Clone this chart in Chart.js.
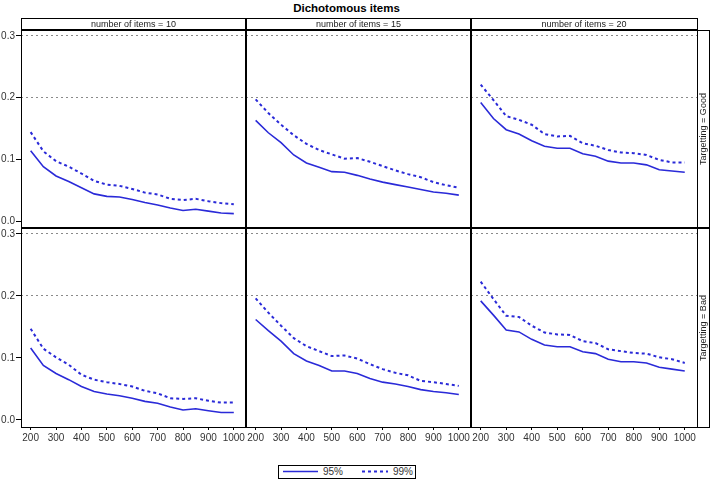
<!DOCTYPE html>
<html>
<head>
<meta charset="utf-8">
<script src="https://cdn.jsdelivr.net/npm/chart.js@4"></script>
<style>
  body { margin: 0; background: #fff; font-family: "Liberation Sans", Arial, sans-serif; }
  #wrap { position: relative; width: 711px; height: 480px; overflow: hidden; }
  .abs { position: absolute; }
  canvas { position: absolute; }
</style>
</head>
<body>
<div id="wrap"></div>
<script>
// panel labels
const itemCounts = [10, 15, 20];
const targetings = ["Good", "Bad"];
const sampleSizes = [200, 250, 300, 350, 400, 450, 500, 550, 600, 650, 700, 750, 800, 850, 900, 950, 1000];
const xTicks = [200, 300, 400, 500, 600, 700, 800, 900, 1000];
const yTicks = [0, 0.1, 0.2, 0.3];
const seriesNames = ["95%", "99%"];

// Targetting = Good
const good10_95 = [0.114, 0.088, 0.073, 0.064, 0.054, 0.044, 0.040, 0.039, 0.035, 0.030, 0.026, 0.021, 0.017, 0.019, 0.016, 0.013, 0.012];
const good10_99 = [0.144, 0.113, 0.097, 0.088, 0.077, 0.065, 0.059, 0.057, 0.052, 0.046, 0.043, 0.036, 0.034, 0.036, 0.032, 0.029, 0.027];
const good15_95 = [0.163, 0.143, 0.127, 0.107, 0.094, 0.087, 0.080, 0.079, 0.074, 0.068, 0.063, 0.059, 0.055, 0.051, 0.047, 0.045, 0.042];
const good15_99 = [0.197, 0.175, 0.156, 0.139, 0.125, 0.115, 0.108, 0.101, 0.102, 0.096, 0.089, 0.082, 0.076, 0.071, 0.063, 0.058, 0.054];
const good20_95 = [0.192, 0.166, 0.148, 0.141, 0.130, 0.121, 0.118, 0.118, 0.109, 0.105, 0.097, 0.094, 0.094, 0.091, 0.083, 0.081, 0.079];
const good20_99 = [0.221, 0.196, 0.170, 0.164, 0.156, 0.141, 0.137, 0.138, 0.126, 0.122, 0.115, 0.111, 0.110, 0.107, 0.099, 0.095, 0.095];

// Targetting = Bad
const bad10_95 = [0.116, 0.088, 0.075, 0.065, 0.054, 0.046, 0.042, 0.039, 0.035, 0.030, 0.027, 0.021, 0.016, 0.018, 0.015, 0.012, 0.012];
const bad10_99 = [0.147, 0.115, 0.101, 0.089, 0.073, 0.065, 0.061, 0.058, 0.054, 0.047, 0.043, 0.035, 0.034, 0.035, 0.031, 0.028, 0.028];
const bad15_95 = [0.162, 0.144, 0.127, 0.107, 0.095, 0.088, 0.079, 0.079, 0.075, 0.067, 0.061, 0.058, 0.054, 0.049, 0.046, 0.044, 0.041];
const bad15_99 = [0.196, 0.173, 0.152, 0.132, 0.119, 0.111, 0.103, 0.104, 0.099, 0.090, 0.082, 0.076, 0.072, 0.063, 0.061, 0.058, 0.055];
const bad20_95 = [0.192, 0.169, 0.145, 0.142, 0.130, 0.121, 0.118, 0.118, 0.110, 0.107, 0.098, 0.094, 0.094, 0.092, 0.085, 0.082, 0.079];
const bad20_99 = [0.223, 0.195, 0.168, 0.166, 0.152, 0.141, 0.138, 0.137, 0.127, 0.124, 0.114, 0.111, 0.108, 0.107, 0.101, 0.098, 0.092];

const panelData = [
  [[good10_95, good10_99], [good15_95, good15_99], [good20_95, good20_99]],
  [[bad10_95, bad10_99], [bad15_95, bad15_99], [bad20_95, bad20_99]]
];

const wrap = document.getElementById("wrap");
const lineColor = "#2a2ad8";
const colLeft = [21, 246, 471];
const colRight = [246, 471, 697];
const rowTop = [30, 228];
const rowBottom = [228, 427];
const yAxisW = 21;
const xAxisH = 20;

function addDiv(css, text) {
  const d = document.createElement("div");
  d.className = "abs";
  d.style.cssText = css;
  if (text) d.textContent = text;
  wrap.appendChild(d);
  return d;
}

function makePanel(r, c) {
  const [d95, d99] = panelData[r][c];
  const showY = c === 0;
  const showX = r === 1;
  const left = showY ? colLeft[c] - yAxisW : colLeft[c];
  const width = colRight[c] - left;
  const top = rowTop[r];
  const height = rowBottom[r] - top + (showX ? xAxisH : 0);

  const cv = document.createElement("canvas");
  cv.width = width;
  cv.height = height;
  cv.style.left = left + "px";
  cv.style.top = top + "px";
  wrap.appendChild(cv);

  new Chart(cv, {
    type: "line",
    data: {
      datasets: [
        {
          label: seriesNames[0],
          data: sampleSizes.map((x, i) => ({ x: x, y: d95[i] })),
          borderColor: lineColor,
          borderWidth: 1.6,
          pointRadius: 0,
          fill: false,
        },
        {
          label: seriesNames[1],
          data: sampleSizes.map((x, i) => ({ x: x, y: d99[i] })),
          borderColor: lineColor,
          borderWidth: 2,
          borderDash: [3, 3],
          pointRadius: 0,
          fill: false,
        }
      ]
    },
    options: {
      responsive: false,
      animation: false,
      layout: { padding: 0, autoPadding: false },
      plugins: { legend: { display: false }, tooltip: { enabled: false } },
      scales: {
        x: {
          type: "linear",
          min: 162,
          max: 1048,
          afterBuildTicks: s => { s.ticks = xTicks.map(v => ({ value: v })); },
          afterFit: s => {
            s.height = showX ? xAxisH : 0;
            s.paddingLeft = 0;
            s.paddingRight = 0;
          },
          border: { display: false },
          grid: {
            display: showX,
            drawOnChartArea: false,
            drawTicks: true,
            tickLength: 3,
            tickColor: "#000",
          },
          ticks: {
            display: showX,
            autoSkip: false,
            maxRotation: 0,
            padding: 2,
            color: "#333",
            font: { family: "Liberation Sans", size: 10 },
            callback: v => String(v),
          }
        },
        y: {
          min: -0.0113,
          max: 0.3095,
          afterBuildTicks: s => { s.ticks = yTicks.map(v => ({ value: v })); },
          afterFit: s => {
            s.width = showY ? yAxisW : 0;
            s.paddingTop = 0;
            s.paddingBottom = 0;
          },
          border: { display: false, dash: [2, 3] },
          grid: {
            color: ctx => (ctx.tick && ctx.tick.value >= 0.15 ? "#8a8a8a" : "rgba(0,0,0,0)"),
            lineWidth: 1,
            drawTicks: showY,
            tickLength: 5,
            tickColor: "#000",
          },
          ticks: {
            display: showY,
            padding: 1,
            color: "#333",
            font: { family: "Liberation Sans", size: 10 },
            callback: v => v.toFixed(1),
          }
        }
      }
    }
  });
}

for (let r = 0; r < 2; r++) {
  for (let c = 0; c < 3; c++) makePanel(r, c);
}

// title
addDiv("left:0;width:693px;top:2px;text-align:center;font-weight:bold;font-size:11.5px;color:#000;", "Dichotomous items");

// column header strip
addDiv("left:21px;top:18px;width:675px;height:11px;border:1px solid #000;");
for (let c = 0; c < 3; c++) {
  addDiv("left:" + colLeft[c] + "px;width:" + (colRight[c] - colLeft[c]) + "px;top:18px;height:13px;line-height:13px;text-align:center;font-size:9px;color:#222;",
    "number of items = " + itemCounts[c]);
}

// row header strip
addDiv("left:697px;top:30px;width:11px;height:396px;border:1px solid #000;");
for (let r = 0; r < 2; r++) {
  const cy = (rowTop[r] + rowBottom[r]) / 2;
  addDiv("left:" + (703 - 60) + "px;top:" + (cy - 7) + "px;width:120px;height:14px;line-height:14px;text-align:center;font-size:9px;color:#222;transform:rotate(-90deg);",
    "Targetting = " + targetings[r]);
}

// panel frame
addDiv("left:21px;top:29px;width:675px;height:397px;border:1px solid #000;");
addDiv("left:21px;top:29px;width:677px;height:2px;background:#000;");
addDiv("left:245px;top:18px;width:2px;height:409px;background:#000;");
addDiv("left:470px;top:18px;width:2px;height:409px;background:#000;");
addDiv("left:21px;top:227px;width:688px;height:2px;background:#000;");

// legend
addDiv("left:278px;top:465px;width:136px;height:12px;border:1px solid #000;");
addDiv("left:323px;top:465px;height:13px;line-height:13px;font-size:10px;color:#333;", seriesNames[0]);
addDiv("left:393px;top:465px;height:13px;line-height:13px;font-size:10px;color:#333;", seriesNames[1]);
const svgNS = "http://www.w3.org/2000/svg";
const svg = document.createElementNS(svgNS, "svg");
svg.setAttribute("width", "711");
svg.setAttribute("height", "480");
svg.style.cssText = "position:absolute;left:0;top:0;pointer-events:none;";
[[283, 318, null, 1.6], [362, 388, "3 3", 2]].forEach(([x1, x2, dash, w]) => {
  const ln = document.createElementNS(svgNS, "line");
  ln.setAttribute("x1", x1); ln.setAttribute("x2", x2);
  ln.setAttribute("y1", 471.5); ln.setAttribute("y2", 471.5);
  ln.setAttribute("stroke", lineColor);
  ln.setAttribute("stroke-width", w);
  if (dash) ln.setAttribute("stroke-dasharray", dash);
  svg.appendChild(ln);
});
wrap.appendChild(svg);
</script>
</body>
</html>
